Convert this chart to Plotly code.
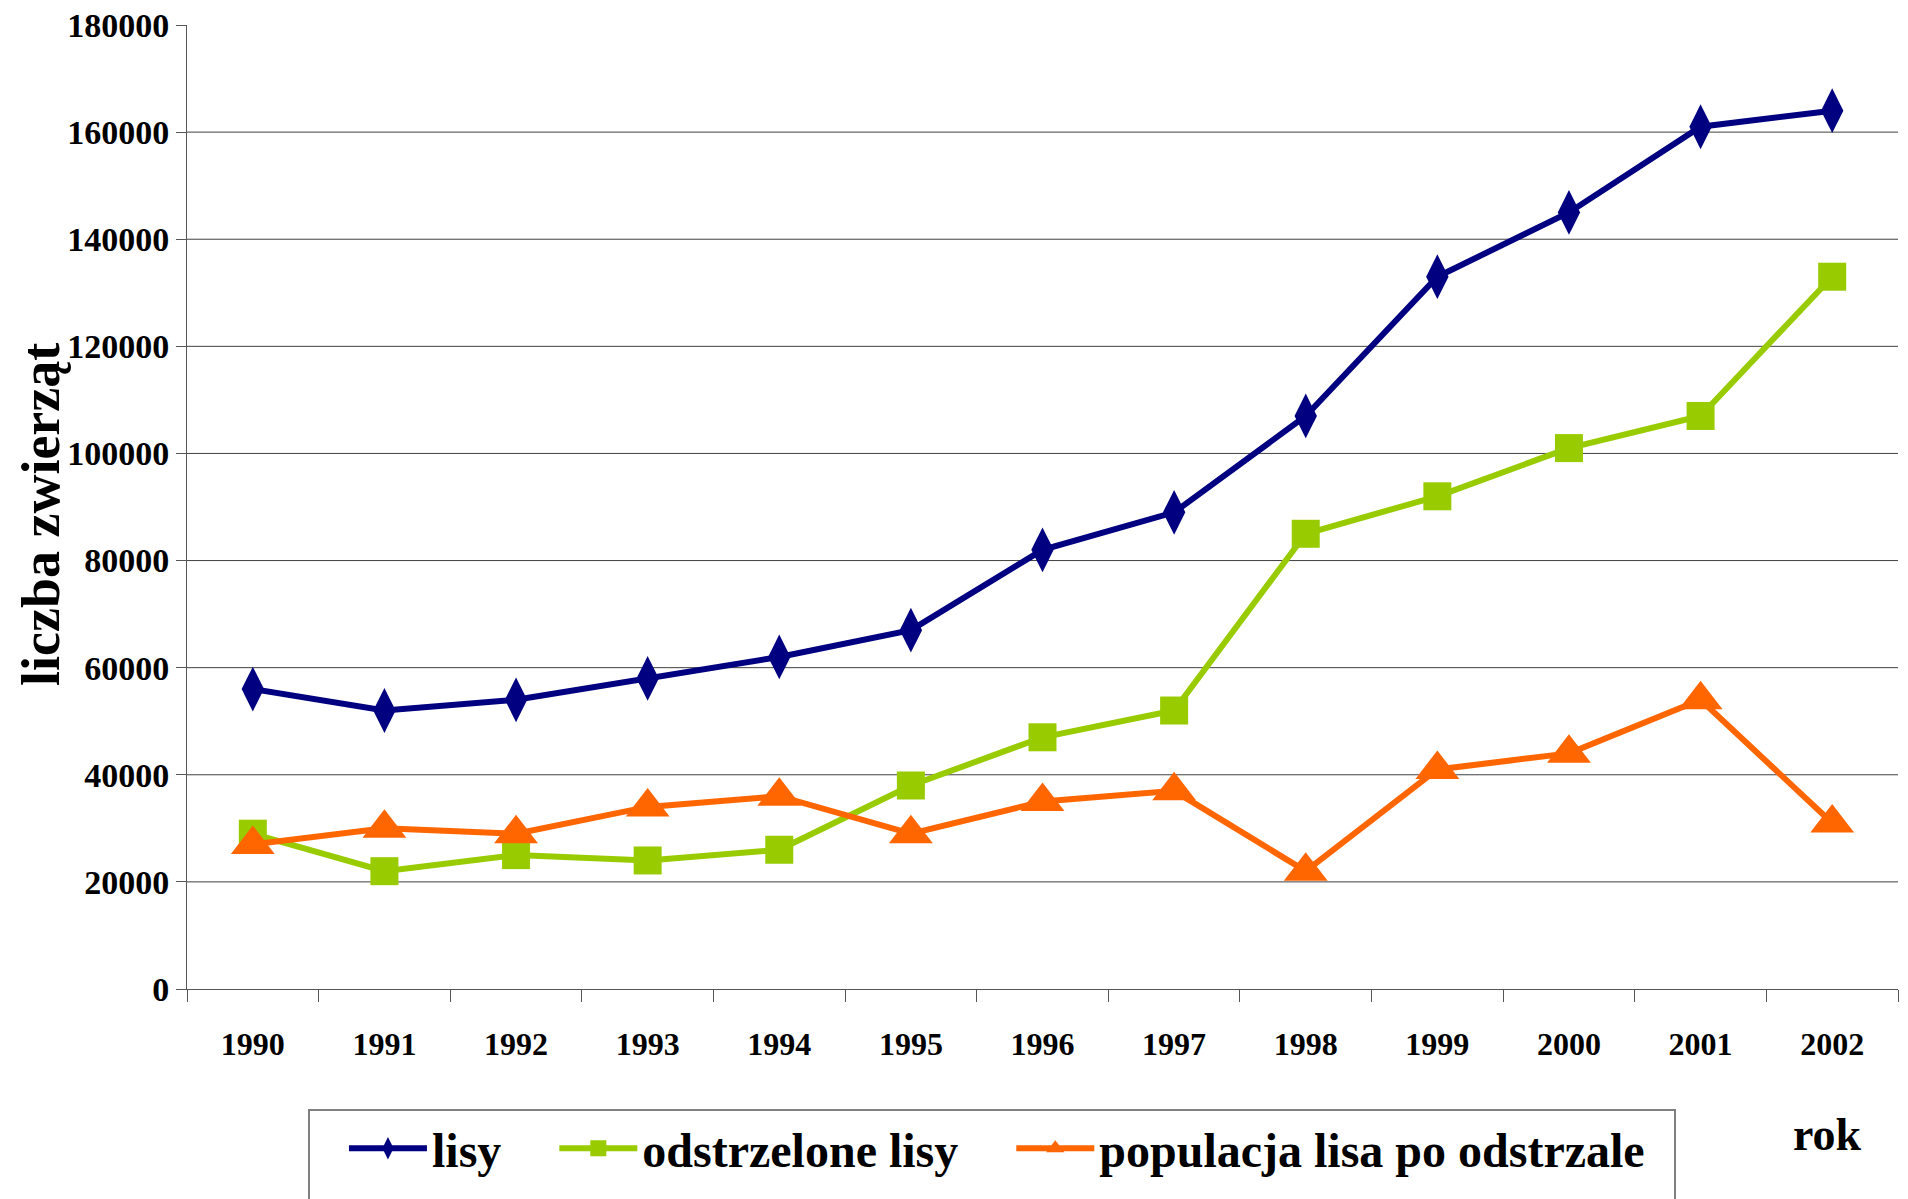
import plotly.graph_objects as go

years = ["1990", "1991", "1992", "1993", "1994", "1995", "1996",
         "1997", "1998", "1999", "2000", "2001", "2002"]
lisy = [56000, 52000, 54000, 58000, 62000, 67000, 82000,
        89000, 107000, 133000, 145000, 161000, 164000]
odstrzelone = [29000, 22000, 25000, 24000, 26000, 38000, 47000,
               52000, 85000, 92000, 101000, 107000, 133000]
populacja = [27000, 30000, 29000, 34000, 36000, 29000, 35000,
             37000, 22000, 41000, 44000, 54000, 31000]
y_ticks = [0, 20000, 40000, 60000, 80000, 100000, 120000, 140000, 160000, 180000]
grid_vals = [20000, 40000, 60000, 80000, 100000, 120000, 140000, 160000]

FONT = "Liberation Serif"
PAD = "\u00a0" * 4

fig = go.Figure()
fig.add_trace(go.Scatter(
    x=years, y=lisy, name="lisy" + PAD, mode="lines+markers",
    line=dict(color="#000080", width=6),
    marker=dict(symbol="diamond-tall", size=32, color="#000080")))
fig.add_trace(go.Scatter(
    x=years, y=odstrzelone, name="odstrzelone lisy" + PAD, mode="lines+markers",
    line=dict(color="#99CC00", width=6),
    marker=dict(symbol="square", size=28, color="#99CC00")))
fig.add_trace(go.Scatter(
    x=years, y=populacja, name="populacja lisa po odstrzale" + "\u00a0" * 2,
    mode="lines+markers",
    line=dict(color="#FF6600", width=6),
    marker=dict(symbol="triangle-up", size=38, color="#FF6600")))

shapes = [dict(type="line", xref="paper", x0=0, x1=1, yref="y", y0=g, y1=g,
               line=dict(color="#404040", width=1), layer="below") for g in grid_vals]

fig.update_layout(
    width=1908, height=1199,
    margin=dict(l=187, r=10, t=25, b=210, autoexpand=False),
    paper_bgcolor="white", plot_bgcolor="white",
    font=dict(family=FONT, color="black"),
    showlegend=True,
    shapes=shapes,
    xaxis=dict(
        type="category", tickson="boundaries", ticks="outside", ticklen=12,
        tickcolor="#555555", showline=True, linecolor="#555555", linewidth=1,
        showgrid=False, tickfont=dict(family=FONT, size=32, color="black", weight="bold"),
        ticklabelstandoff=27, range=[-0.5, 12.5],
    ),
    yaxis=dict(
        range=[0, 180000], tickvals=y_ticks, ticktext=[str(v) for v in y_ticks],
        ticks="outside", ticklen=10, tickcolor="#555555",
        showline=True, linecolor="#555555", linewidth=1,
        showgrid=False, zeroline=False,
        tickfont=dict(family=FONT, size=34, color="black", weight="bold"),
    ),
    legend=dict(
        orientation="h", x=0.0707, y=-0.124, xanchor="left", yanchor="top",
        bordercolor="#808080", borderwidth=2, bgcolor="white",
        font=dict(family=FONT, size=48, color="black", weight="bold"),
        itemwidth=78, itemsizing="trace",
        title=dict(text="\u00a0", side="left",
                   font=dict(family=FONT, size=96)),
    ),
    annotations=[
        dict(text="<b>liczba zwierząt</b>", xref="paper", yref="paper",
             x=-0.0853, y=0.4917, xanchor="center", yanchor="middle",
             textangle=-90, showarrow=False,
             font=dict(family=FONT, size=54, color="black")),
        dict(text="<b>rok</b>", xref="paper", yref="paper",
             x=0.959, y=-0.1505, xanchor="center", yanchor="middle",
             showarrow=False, font=dict(family=FONT, size=46, color="black")),
    ],
)

fig.write_html("out.html", config={"displayModeBar": False},
               post_script="document.body.style.margin='0';")
